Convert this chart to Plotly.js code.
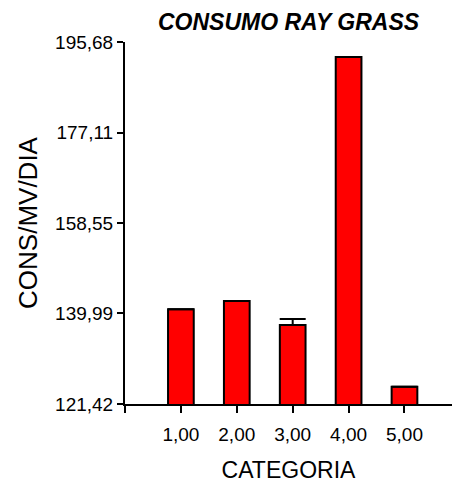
<!DOCTYPE html>
<html>
<head>
<meta charset="utf-8">
<script src="https://cdn.plot.ly/plotly-3.0.1.min.js"></script>
<style>html,body{margin:0;padding:0;background:#fff;}#chart{width:452px;height:483px;}</style>
</head>
<body>
<div id="chart"></div>
<script>
// Data
const categories = [1, 2, 3, 4, 5];
const consumo = [140.86, 142.56, 137.65, 192.58, 124.96];
const errorPlus = [0, 0, 1.2, 0, 0];
const xTickVals = [0, 1, 2, 3, 4, 5];
const xTickText = ['', '1,00', '2,00', '3,00', '4,00', '5,00'];
const yTickVals = [121.42, 139.99, 158.55, 177.11, 195.68];
const yTickText = ['121,42', '139,99', '158,55', '177,11', '195,68'];

const font = 'Liberation Sans, Arial, sans-serif';

const trace = {
  type: 'bar',
  x: categories,
  y: consumo,
  width: 0.46,
  marker: {color: '#ff0000', line: {color: '#000000', width: 2}},
  error_y: {
    type: 'data', symmetric: false, array: errorPlus,
    arrayminus: errorPlus.map(() => 0),
    color: '#000000', thickness: 2, width: 13, visible: true
  },
  hoverinfo: 'none'
};

const layout = {
  width: 452, height: 483,
  margin: {l: 125, r: 0, t: 42, b: 79, pad: 0},
  paper_bgcolor: '#ffffff', plot_bgcolor: '#ffffff',
  showlegend: false,
  font: {family: font, color: '#000000', size: 19},
  title: {
    text: 'CONSUMO RAY GRASS',
    font: {family: font, size: 23, weight: 'bold', style: 'italic', color: '#000'},
    x: 0.5, xref: 'paper', xanchor: 'center',
    y: 1 - 21.5 / 483, yref: 'container', yanchor: 'middle'
  },
  xaxis: {
    range: [0, 5.85],
    tickvals: xTickVals, ticktext: xTickText,
    ticks: 'outside', ticklen: 7, tickwidth: 2, tickcolor: '#000',
    ticklabelstandoff: 5,
    showline: true, linecolor: '#000', linewidth: 2,
    showgrid: false, zeroline: false,
    tickfont: {family: font, size: 19},
    title: {text: 'CATEGORIA', font: {family: font, size: 23}, standoff: 20}
  },
  yaxis: {
    range: [121.42, 195.68],
    tickvals: yTickVals, ticktext: yTickText,
    ticks: 'outside', ticklen: 6, tickwidth: 2, tickcolor: '#000',
    showline: true, linecolor: '#000', linewidth: 2,
    showgrid: false, zeroline: false,
    tickfont: {family: font, size: 19},
    title: {text: 'CONS/MV/DIA', font: {family: font, size: 26}, standoff: 10}
  }
};

Plotly.newPlot('chart', [trace], layout, {displayModeBar: false, staticPlot: true});
</script>
</body>
</html>
